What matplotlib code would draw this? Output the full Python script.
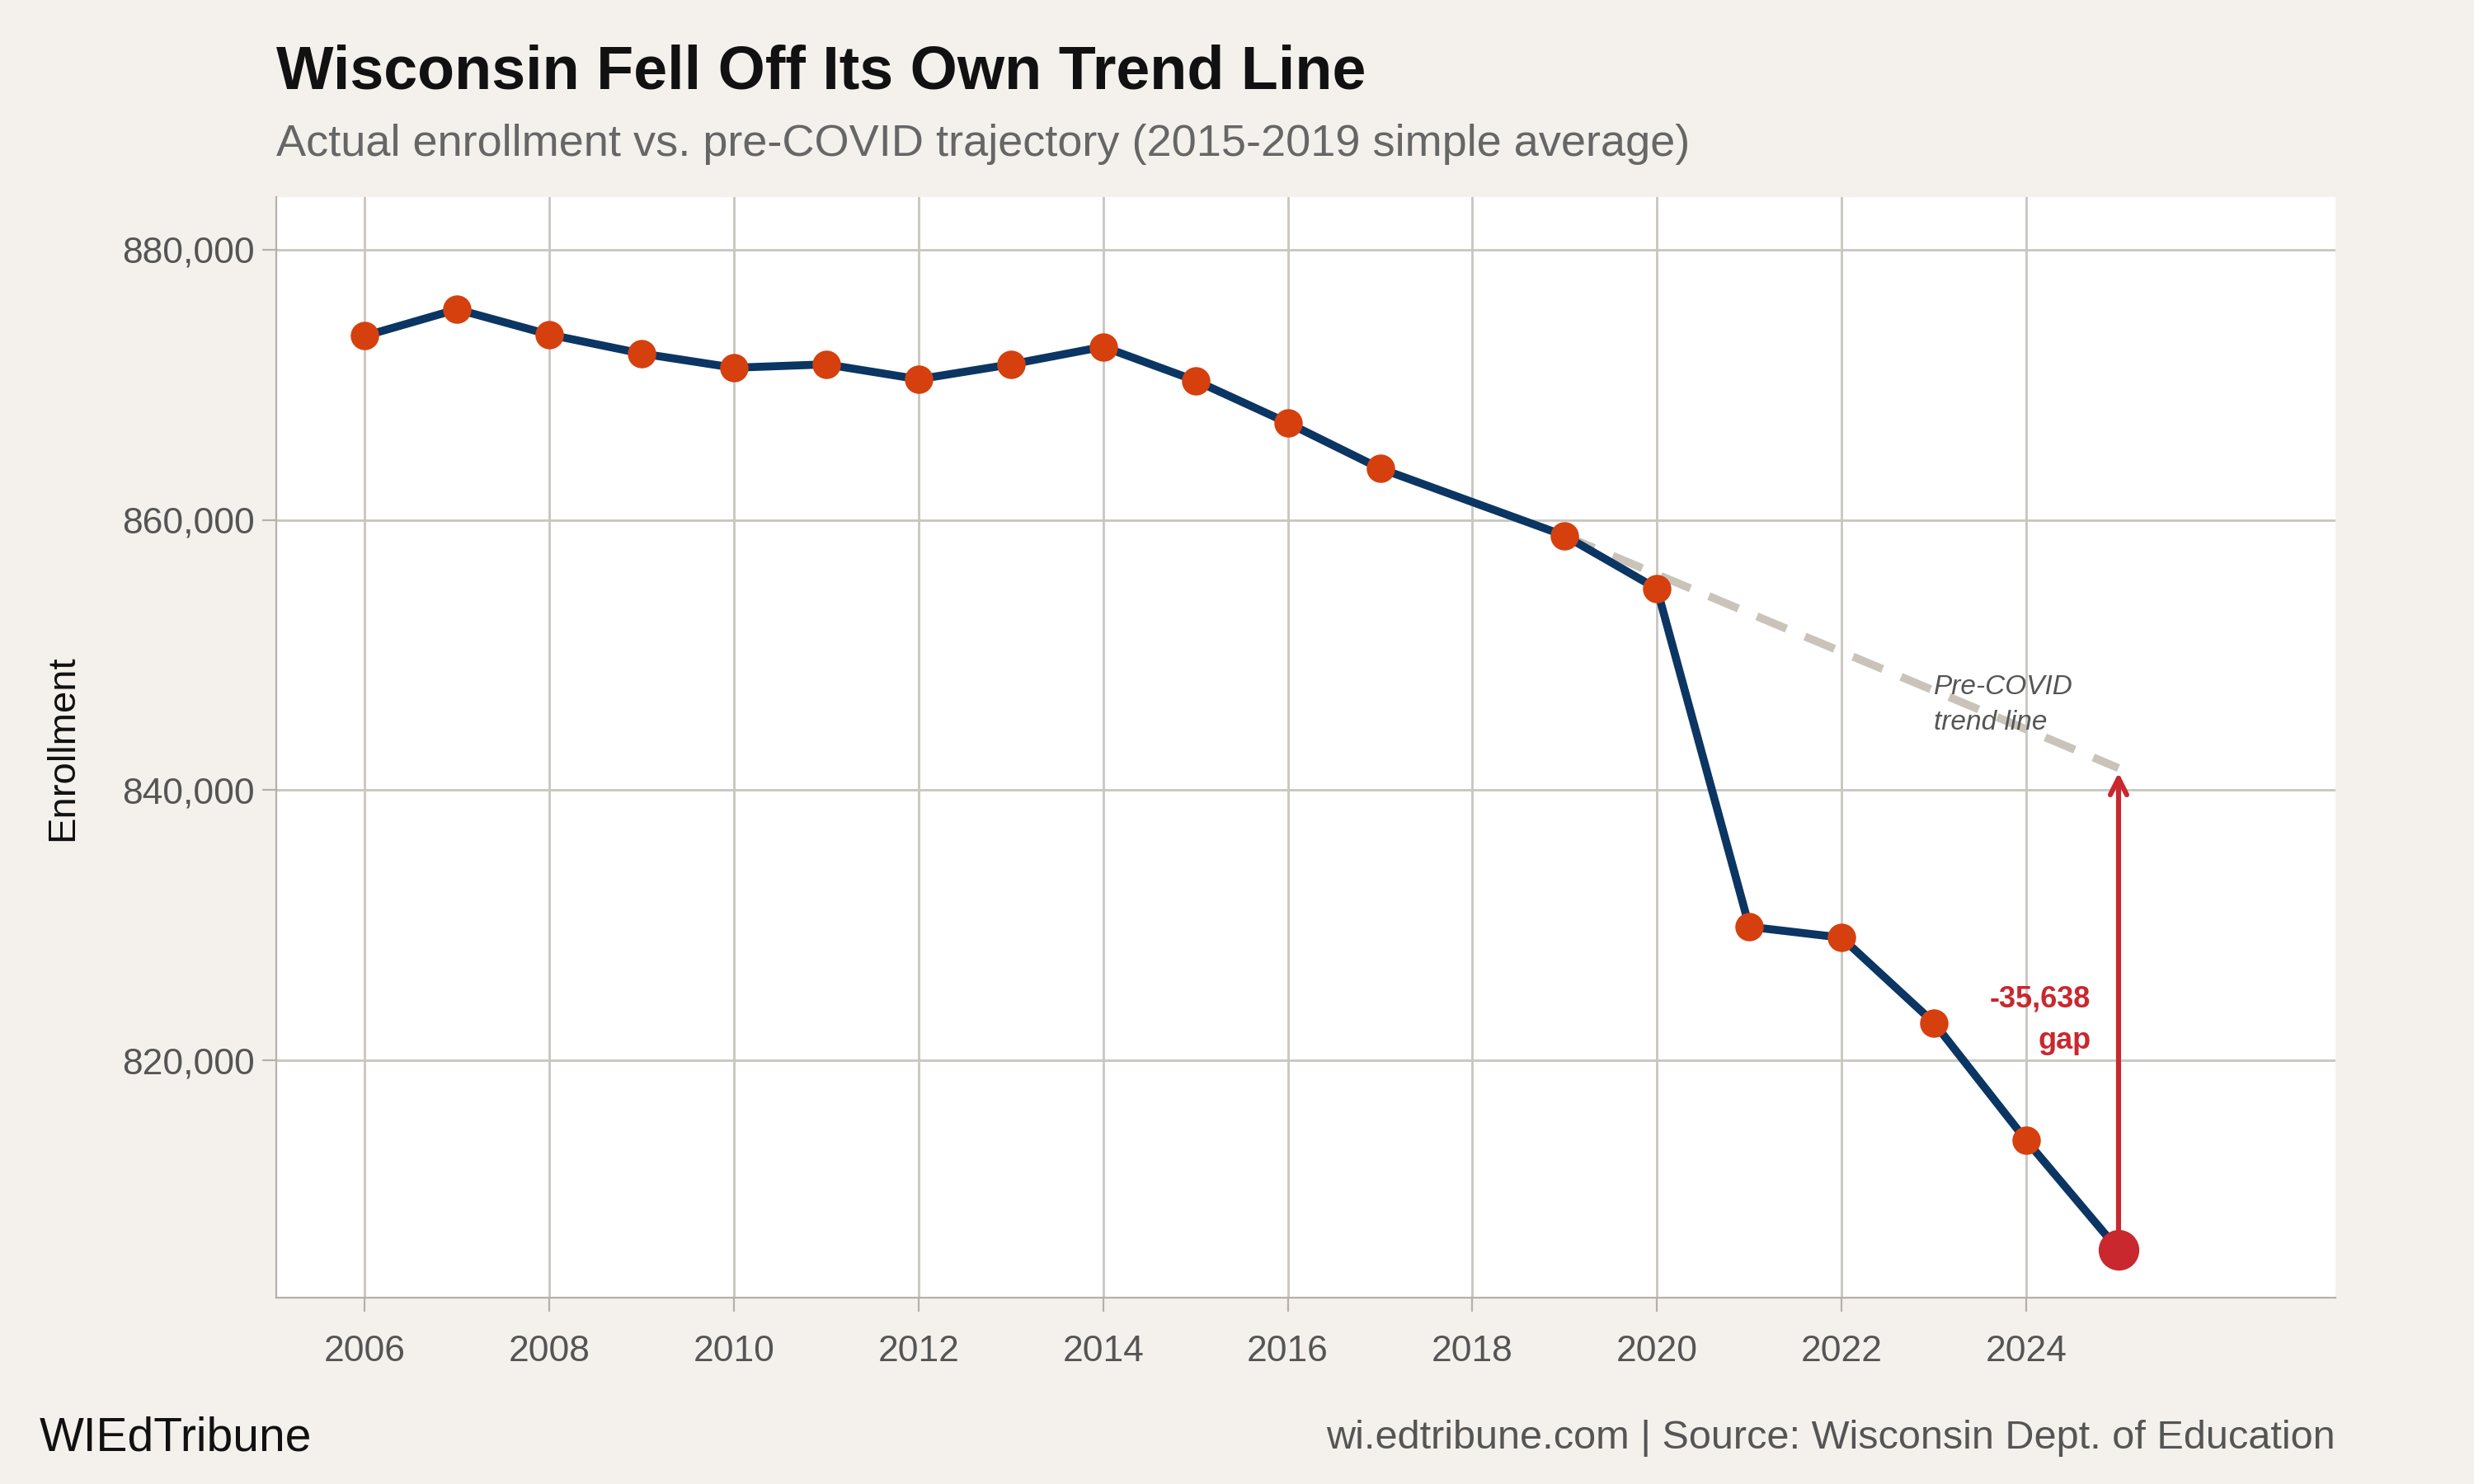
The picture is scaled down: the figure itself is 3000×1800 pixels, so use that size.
import matplotlib.pyplot as plt

plt.rcParams['font.family'] = ['Liberation Sans', 'DejaVu Sans']

# enrollment (2018 not reported)
years = [2006, 2007, 2008, 2009, 2010, 2011, 2012, 2013, 2014, 2015, 2016, 2017,
         2019, 2020, 2021, 2022, 2023, 2024, 2025]
enroll = [873600, 875570, 873700, 872300, 871250, 871500, 870400, 871500, 872800,
          870300, 867170, 863800, 858830, 854900, 829900, 829100, 822800, 814100, 806000]
trend_years = [2019, 2025]
trend_vals = [858830, 841638]
gap = -35638

bg = '#F4F1ED'
navy = '#0B3563'
orange = '#D5400E'
red = '#C8282E'

fig = plt.figure(figsize=(15, 9), dpi=200, facecolor=bg)
ax = fig.add_axes([0.1116, 0.1254, 0.8324, 0.7416])
ax.set_facecolor('white')

ax.plot(trend_years, trend_vals, color='#C9C3BA', lw=3.5, ls=(0, (4, 2.5)), zorder=2)
ax.plot(years, enroll, color=navy, lw=3.5, zorder=3)
ax.scatter(years[:-1], enroll[:-1], s=130, color=orange, zorder=4)
ax.scatter(years[-1:], enroll[-1:], s=280, color=red, zorder=5)

ax.annotate('', xy=(2025, trend_vals[-1]), xytext=(2025, enroll[-1]),
            arrowprops=dict(arrowstyle='->', color=red, lw=2.2, mutation_scale=18), zorder=4)
ax.text(2024.7, 823000, f'{gap:,}\ngap', color=red, fontsize=13, fontweight='bold',
        ha='right', va='center', linespacing=1.6)
ax.text(2023.0, 846300, 'Pre-COVID\ntrend line', color='#555555', fontsize=12,
        style='italic', ha='left', va='center', linespacing=1.5)

ax.set_xlim(2005.04, 2027.35)
ax.set_ylim(802450, 883850)
ax.set_xticks(range(2006, 2026, 2))
ax.set_yticks([820000, 840000, 860000, 880000])
ax.yaxis.set_major_formatter(plt.FuncFormatter(lambda v, p: f'{int(v):,}'))
ax.grid(True, color='#C9C5BF', lw=1)
ax.set_axisbelow(True)
for s in ['top', 'right']:
    ax.spines[s].set_visible(False)
for s in ['left', 'bottom']:
    ax.spines[s].set_color('#B5B0A8')
ax.tick_params(colors='#B5B0A8', labelcolor='#555555', labelsize=16, length=6)
ax.tick_params(axis='x', pad=10)
ax.set_ylabel('Enrollment', fontsize=17, color='#111111', labelpad=18)

fig.text(0.1116, 0.951, 'Wisconsin Fell Off Its Own Trend Line', fontsize=26.5,
         fontweight='bold', color='#111111', va='center')
fig.text(0.1116, 0.903, 'Actual enrollment vs. pre-COVID trajectory (2015-2019 simple average)',
         fontsize=19.5, color='#666666', va='center')
fig.text(0.016, 0.031, 'WIEdTribune', fontsize=20.5, color='#111111', va='center')
fig.text(0.944, 0.031, 'wi.edtribune.com | Source: Wisconsin Dept. of Education',
         fontsize=17.5, color='#555555', va='center', ha='right')

fig.savefig('out.png', dpi=200, facecolor=bg)
